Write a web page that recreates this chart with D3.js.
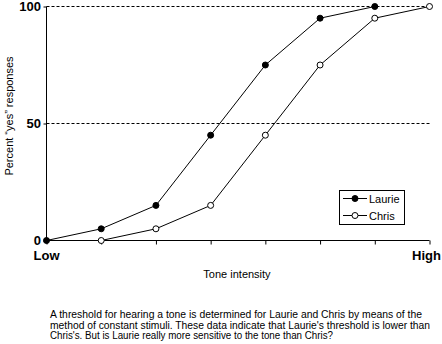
<!DOCTYPE html>
<html><head><meta charset="utf-8">
<script src="https://cdn.jsdelivr.net/npm/d3@7"></script>
<style>body{margin:0;background:#fff}svg{display:block}text{font-family:Arial,"Liberation Sans",sans-serif}</style>
</head><body><svg id="c" width="442" height="344"></svg>
<script>
const intensityLevels = [0,1,2,3,4,5,6,7];
const laurieX = [0,1,2,3,4,5,6];
const laurieY = [0,5,15,45,75,95,100];
const chrisX = [1,2,3,4,5,6,7];
const chrisY = [0,5,15,45,75,95,100];
const yTicks = [0,50,100];
const gridTicks = [50,100];
const xTickLabels = [{i:0,t:"Low"},{i:7,t:"High"}];
const caption = [
 "A threshold for hearing a tone is determined for Laurie and Chris by  means of the",
 "method of constant stimuli. These data indicate that Laurie's threshold is lower than",
 "Chris's. But is Laurie really more sensitive to the tone than Chris?"
];
const captionWidths = [372,380,283];

const svg = d3.select("#c");
const x = d3.scaleLinear().domain([0,7]).range([46.5,429.5]);
const y = d3.scaleLinear().domain([0,100]).range([240.5,6.5]);

svg.append("g").selectAll("line").data(gridTicks).join("line")
 .attr("x1",x(0)).attr("x2",x(7)).attr("y1",d=>y(d)).attr("y2",d=>y(d))
 .attr("stroke","#000").attr("stroke-width",1).attr("stroke-dasharray","3,2");

const ya = svg.append("g").attr("transform",`translate(${x(0)},0)`)
 .call(d3.axisLeft(y).tickValues(yTicks).tickSize(3).tickFormat(""));
ya.select(".domain").attr("d",`M0,${y(100)}V${y(0)}`);
svg.append("g").selectAll("text").data(yTicks).join("text")
 .attr("x",41).attr("y",d=>y(d)+4.5).attr("text-anchor","end")
 .attr("font-size",13).attr("font-weight","bold").text(d=>d);

const xa = svg.append("g").attr("transform",`translate(0,${y(0)})`)
 .call(d3.axisBottom(x).tickValues(intensityLevels).tickSize(4).tickFormat(""));
xa.select(".domain").attr("d",`M${x(0)},0H${x(7)}`);
svg.selectAll("g.tick line, .domain").attr("stroke","#000");
svg.append("g").selectAll("text").data(xTickLabels).join("text")
 .attr("x",d=>d.i===7 ? 441 : x(d.i)).attr("y",260)
 .attr("text-anchor",d=>d.i===7 ? "end" : "middle")
 .attr("font-size",13).attr("font-weight","bold").text(d=>d.t);

svg.append("text").attr("x",237).attr("y",278).attr("text-anchor","middle")
 .attr("font-size",11).text("Tone intensity");
svg.append("text").attr("transform","translate(13,116) rotate(-90)").attr("text-anchor","middle")
 .attr("font-size",11).text("Percent \u201Cyes\u201D responses");

const line = d3.line().x(d=>x(d[0])).y(d=>y(d[1]));
const series = [
 {name:"Laurie", pts:laurieX.map((v,i)=>[v,laurieY[i]]), fill:"#000"},
 {name:"Chris", pts:chrisX.map((v,i)=>[v,chrisY[i]]), fill:"#fff"}
];
series.forEach(s=>{
 svg.append("path").datum(s.pts).attr("d",line).attr("fill","none").attr("stroke","#000").attr("stroke-width",1);
});
series.forEach(s=>{
 svg.append("g").selectAll("circle").data(s.pts).join("circle")
  .attr("cx",d=>x(d[0])).attr("cy",d=>y(d[1])).attr("r",3)
  .attr("fill",s.fill).attr("stroke","#000").attr("stroke-width",1);
});

const lg = svg.append("g");
lg.append("rect").attr("x",339.5).attr("y",190.5).attr("width",65).attr("height",34)
 .attr("fill","#fff").attr("stroke","#000");
series.forEach((s,i)=>{
 const yy = 198.5 + i*17;
 lg.append("line").attr("x1",343).attr("x2",367).attr("y1",yy).attr("y2",yy).attr("stroke","#000");
 lg.append("circle").attr("cx",355).attr("cy",yy).attr("r",3).attr("fill",s.fill).attr("stroke","#000");
 lg.append("text").attr("x",369).attr("y",yy+4).attr("font-size",11).text(s.name);
});

svg.append("g").selectAll("text").data(caption).join("text")
 .attr("x",50).attr("y",(d,i)=>318+i*10.5).attr("font-size",10)
 .attr("textLength",(d,i)=>captionWidths[i]).attr("lengthAdjust","spacingAndGlyphs").text(d=>d);
</script></body></html>
